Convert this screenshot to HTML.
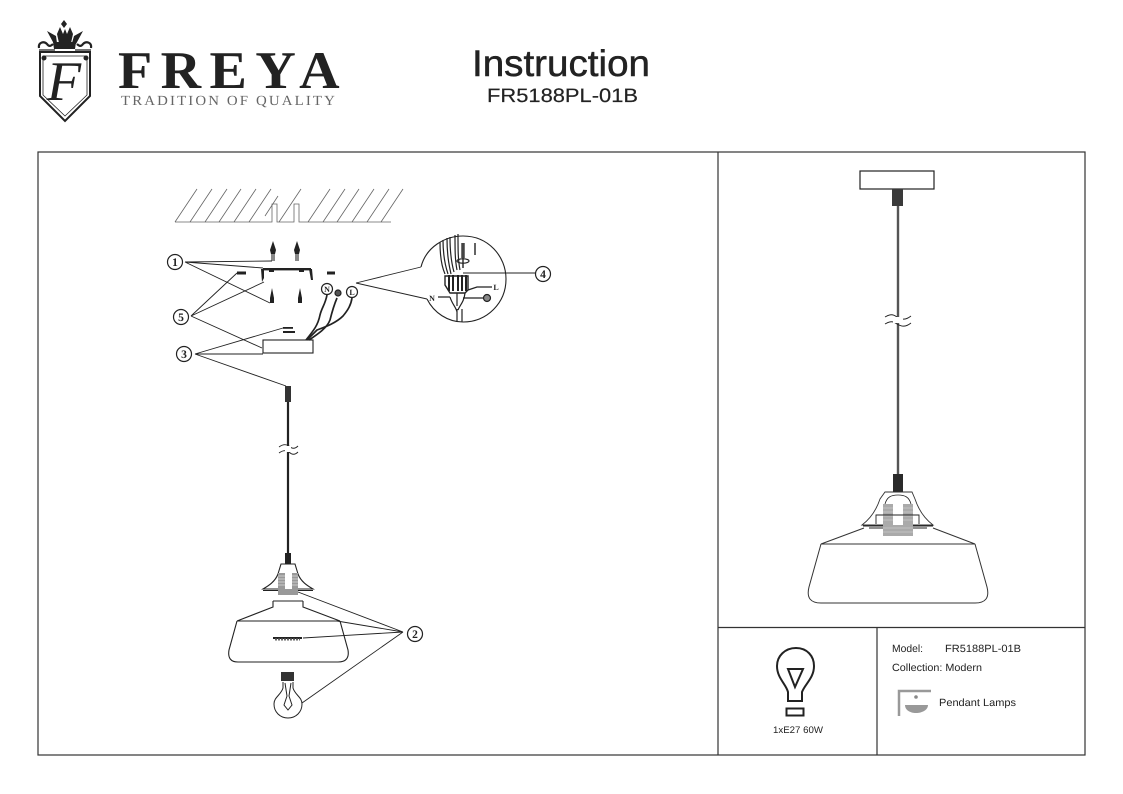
<!DOCTYPE html>
<html><head><meta charset="utf-8"><style>
html,body{margin:0;padding:0;background:#fff;width:1123px;height:794px;overflow:hidden}
svg{display:block}
text{font-family:"Liberation Sans",sans-serif;fill:#222;text-rendering:geometricPrecision}
text.s{font-family:"Liberation Serif",serif}
</style></head><body>
<svg width="1123" height="794" viewBox="0 0 1123 794" xmlns="http://www.w3.org/2000/svg" fill="none" stroke="#222" stroke-width="1">
<!-- logo -->
<g>
<path d="M40 52H90V96L65 121L40 96Z" fill="#fff" stroke="#222" stroke-width="2"/>
<path d="M43 56H87V95L65 116L43 95Z" stroke-width=".8"/>
<circle cx="44" cy="58" r="2.500" fill="#222" stroke="none"/><circle cx="86" cy="58" r="2.500" fill="#222" stroke="none"/>
<path d="M53 42H76L75 49H54Z" fill="#222" stroke="none"/>
<path d="M47 31L56 36L57 43H72L74 36L83 31L76 44H54Z" fill="#222" stroke="none"/>
<path d="M57 34L60 27L63 34L65 29L67 34L70 27L73 34L71 43H59Z" fill="#222" stroke="none"/>
<path d="M64 20L67 24L64 28L61 24Z" fill="#222" stroke="none"/>
<path d="M39 48C38 42 44 41 47 44C49 47 51 46 53 44M91 48C92 42 86 41 83 44C81 47 79 46 77 44" stroke-width="2.200"/>
<path d="M39 50H55M75 50H91" stroke-width="1.300"/>
<text x="64" y="100" text-anchor="middle" class="s" font-size="56" font-style="italic" stroke="none">F</text>
<text x="118" y="88" class="s" font-size="53" font-weight="bold" stroke="none" textLength="230" lengthAdjust="spacingAndGlyphs" letter-spacing="8">FREYA</text>
<text x="121" y="105" class="s" font-size="14" stroke="none" textLength="216" lengthAdjust="spacingAndGlyphs" letter-spacing="2" style="fill:#666">TRADITION OF QUALITY</text>
</g>
<text x="472" y="76" font-size="37" stroke="#222" stroke-width=".5" textLength="178" lengthAdjust="spacingAndGlyphs">Instruction</text>
<text x="487" y="102" font-size="19.500" stroke="#222" stroke-width=".2" textLength="151" lengthAdjust="spacingAndGlyphs">FR5188PL-01B</text>
<!-- frame -->
<rect x="38" y="152" width="1047" height="603" stroke="#333" stroke-width="1.200"/>
<path d="M718 152V755M718 627.500H1085M877 627.500V755" stroke="#333" stroke-width="1.200"/>
<!-- ceiling hatch -->
<g stroke="#666" stroke-width=".8">
<path d="M175 222H272V204H277V222H278M278 222H294V204H299V222H391"/>
<path d="M175 222L197 189M190 222L212 189M205 222L227 189M219 222L241 189M234 222L256 189M249 222L271 189M279 222L301 189M308 222L330 189M323 222L345 189M337 222L359 189M352 222L374 189M367 222L389 189M381 222L403 189M265 216L278 196"/>
</g>
<!-- anchors -->
<g fill="#222" stroke="none">
<path d="M273 241L276 250L275 254H271L270 250Z"/><path d="M297 241L300 250L299 254H295L294 250Z"/>
<path d="M271 254H275V261H271Z" fill="#888"/><path d="M295 254H299V261H295Z" fill="#888"/>
<path d="M272 288L274 298V303H270V298Z"/><path d="M300 288L302 298V303H298V298Z"/>
<rect x="237" y="271.500" width="9" height="3"/><rect x="327" y="271.500" width="8" height="3"/>
<rect x="283" y="327" width="10" height="1.800"/><rect x="283" y="331" width="12" height="2"/>
<rect x="263" y="268" width="48" height="2.400"/>
<path d="M261 269H264V278L262 282Z"/><path d="M309 269H312L313 280L311 280Z"/>
<rect x="269" y="270" width="5" height="2"/><rect x="299" y="270" width="5" height="2"/>
</g>
<!-- leaders left -->
<g stroke-width=".9">
<path d="M185 262L272 261M185 262L263 268M185 262L270 303"/>
<path d="M191 316L237 273M191 316L264 282M191 316L262 348"/>
<path d="M195 354L283 328M195 354H263M195 354L286 386"/>
<path d="M403 632L298 592M403 632L337 621M403 632L303 638M403 632L302 703"/>
<path d="M356 283L421 267M356 283L427 299"/>
<path d="M463 273H535"/>
</g>
<rect x="263" y="340" width="50" height="13" stroke-width="1.100"/>
<path d="M327 295C325 305 322 307 320 315C318 325 314 330 306 340" stroke-width="1.700"/>
<path d="M337 298C334 305 332 312 330 320C327 328 318 334 309 340" stroke-width="1.700"/>
<path d="M352 298C351 305 348 310 343 316C335 324 322 328 317 330L307 340" stroke-width="1.700"/>
<g text-anchor="middle" stroke="none">
<g fill="#fff" stroke="#222" stroke-width="1.200"><circle cx="175" cy="262" r="7.500"/><circle cx="181" cy="317" r="7.500"/><circle cx="184" cy="354" r="7.500"/><circle cx="415" cy="634" r="7.500"/><circle cx="543" cy="274" r="7.500"/><circle cx="327" cy="289" r="5.500"/><circle cx="338" cy="293" r="3" fill="#555"/><circle cx="352" cy="292" r="5.500"/><circle cx="487" cy="298" r="3.500" fill="#888"/></g>
<text class="s" font-size="11.500" font-weight="bold" x="175" y="266" stroke="none">1</text><text class="s" font-size="11.500" font-weight="bold" x="181" y="321" stroke="none">5</text><text class="s" font-size="11.500" font-weight="bold" x="184" y="358" stroke="none">3</text><text class="s" font-size="11.500" font-weight="bold" x="415" y="638" stroke="none">2</text><text class="s" font-size="11.500" font-weight="bold" x="543" y="278" stroke="none">4</text>
<text class="s" font-size="8" font-weight="bold" x="327" y="292" stroke="none">N</text><text class="s" font-size="8" font-weight="bold" x="352" y="295" stroke="none">L</text><text class="s" font-size="8" font-weight="bold" x="496" y="290" stroke="none">L</text><text class="s" font-size="8" font-weight="bold" x="432" y="301" stroke="none">N</text>
</g>
<!-- detail circle -->
<path d="M421 267C426 247 445 236 463 236C488 236 506 256 506 279C506 303 487 322 463 322C448 322 434 313 427 299" stroke-width="1.100"/>
<g stroke-width="1.100">
<path d="M440 242C440 255 441 265 445 274M443 240C443 255 445 265 448 274M447 238C447 255 449 265 451 274M450 237C450 255 452 265 454 272M455 235C455 250 455 260 457 270M458 234C458 250 458 260 460 270" stroke-width="1.200"/>
<path d="M445 276H468V290L465 293H450L445 285Z" stroke-width="1.400"/>
<path d="M449 275V291M453 275V291M458 275V291M462 275V291M466 275V291" stroke-width="2"/>
<path d="M450 297C452 304 456 307 457 312M457 293V306M465 293C464 302 460 305 458 310M457 309V322M462 309V322M468 290L477 287H492M438 297H450M463 298H483" stroke-width="1.200"/>
<path d="M463 243V258" stroke-width="3.500" stroke="#444"/>
<path d="M463 258V268M475 243V255" stroke-width="1.400"/>
<ellipse cx="463" cy="261" rx="6" ry="2.200"/>
</g>
<!-- left lamp -->
<path d="M288 402V553" stroke-width="2.200"/>
<rect x="285" y="386" width="6" height="16" fill="#333" stroke="none"/>
<path d="M279 447C283 444 286 444 289 446C292 449 295 449 298 446M279 453C283 450 286 450 289 452C292 455 295 455 298 452" stroke-width=".9"/>
<rect x="285" y="446" width="6" height="6" fill="#fff" stroke="none"/>
<path d="M285 553H291V564H285Z" fill="#222" stroke="none"/>
<path d="M281 564H295L298 574C301 582 308 586 313 589H263C268 586 275 582 278 574Z" stroke-width="1.100"/>
<path d="M263 590.500H313" stroke-width="1"/>
<rect x="278" y="573" width="20" height="22" fill="#999" stroke="none"/>
<rect x="285" y="573" width="7" height="16" fill="#fff" stroke="none"/>
<path d="M278 576H285M278 579H285M278 582H285M278 585H285M292 576H298M292 579H298M292 582H298M292 585H298" stroke="#ddd" stroke-width=".8"/>
<path d="M273 601H303M273 601V607L237 621M303 601V607L340 621M237 621H340" stroke-width="1.100"/>
<path d="M237 621L229 650Q227 662 238 662H338Q350 662 348 650L340 621" stroke-width="1.100"/>
<rect x="273" y="637" width="29" height="2" fill="#222" stroke="none"/>
<path d="M275 639.500H300" stroke="#666" stroke-width="2" stroke-dasharray="2 1"/>
<!-- bulb -->
<rect x="281" y="672" width="13" height="9" fill="#333" stroke="none"/>
<path d="M283 682V688C281 695 274 697 274 704C274 712 280 718 288 718C296 718 302 712 302 704C302 697 295 695 293 688V682" stroke-width="1"/>
<path d="M285 683L287 696L284 705L288 710L292 705L289 696L291 683" stroke-width="1"/>
<!-- right lamp -->
<rect x="860" y="171" width="74" height="18" stroke-width="1.200"/>
<rect x="892" y="189" width="11" height="17" fill="#3a3a3a" stroke="none"/>
<path d="M898 206V474" stroke="#555" stroke-width="2.400"/>
<path d="M885 317C890 314 893 314 897 317C902 320 906 320 911 316M885 324C890 321 893 321 897 324C902 327 906 327 911 323" stroke-width=".9"/>
<rect x="893" y="317" width="10" height="6" fill="#fff" stroke="none"/>
<rect x="893" y="474" width="10" height="18" fill="#2a2a2a" stroke="none"/>
<path d="M885 492H912L915 499C919 511 925 519 933 525H862C870 519 876 511 880 499Z" stroke-width=".9" stroke="#333"/>
<path d="M863 526H933M869 528H927" stroke-width=".9"/>
<path d="M885 504C887 497 891 495 898 495C905 495 909 497 911 504" stroke-width=".8"/>
<rect x="883" y="504" width="30" height="32" fill="#aaa" stroke="none"/>
<rect x="893" y="504" width="10" height="21" fill="#fff" stroke="none"/>
<path d="M883 508H893M883 512H893M883 516H893M883 520H893M903 508H913M903 512H913M903 516H913M903 520H913M883 528H913M883 532H913" stroke="#ccc" stroke-width=".8"/>
<path d="M876 524V515H919V524" stroke-width=".9"/>
<path d="M864 528L821 544H975L933 528M821 544L809 587Q805 603 821 603H975Q991 603 987 587L975 544" stroke-width="1" stroke="#333"/>
<!-- bulb icon -->
<path d="M788 701V692C786 684 777 678 777 666C777 656 785 648 796 648C807 648 814 656 814 666C814 678 805 684 802 692V701Z" stroke-width="2"/>
<path d="M788 669H803L795 687Z" stroke-width="2"/>
<rect x="786.500" y="708.500" width="17" height="7" stroke-width="2"/>
<text x="773" y="733" font-size="9.500" stroke="none" textLength="50" lengthAdjust="spacingAndGlyphs">1xE27 60W</text>
<text x="892" y="652" font-size="10.500" stroke="none" textLength="31" lengthAdjust="spacingAndGlyphs">Model:</text>
<text x="945" y="652" font-size="10.500" stroke="none" textLength="76" lengthAdjust="spacingAndGlyphs">FR5188PL-01B</text>
<text x="892" y="671" font-size="10.500" stroke="none" textLength="90" lengthAdjust="spacingAndGlyphs">Collection: Modern</text>
<text x="939" y="706" font-size="10.500" stroke="none" textLength="77" lengthAdjust="spacingAndGlyphs">Pendant Lamps</text>
<path d="M899 716V691H931" stroke="#999" stroke-width="2.500"/>
<path d="M905 705H928C928 710 922 713 916 713C910 713 905 710 905 705Z" fill="#999" stroke="none"/>
<circle cx="916" cy="697" r="1.800" fill="#888" stroke="none"/>
</svg>
</body></html>
